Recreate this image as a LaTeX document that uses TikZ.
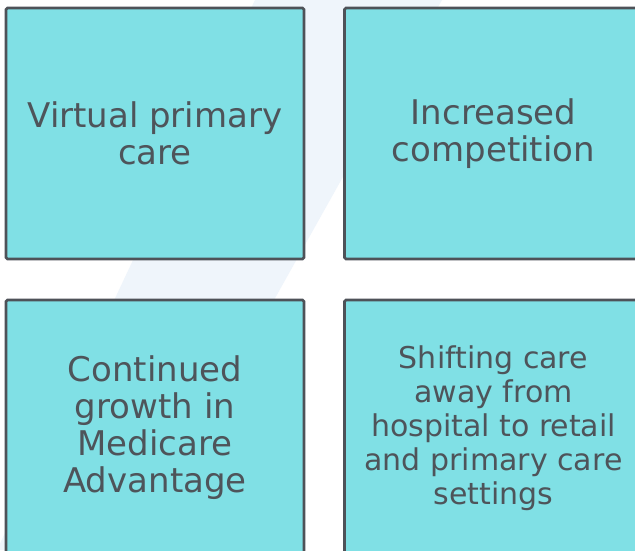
\documentclass[tikz,border=0pt]{standalone}
\usepackage{fontspec}
\setmainfont{DejaVu Sans}
\definecolor{boxfill}{RGB}{128,224,229}
\definecolor{boxline}{RGB}{78,82,88}
\definecolor{txt}{RGB}{78,84,90}
\definecolor{band}{RGB}{239,245,251}
\begin{document}
\begin{tikzpicture}[x=1pt,y=-1pt,
  card/.style={draw=boxline, line width=2.8pt, fill=boxfill,
    minimum width=298pt, minimum height=251pt, inner sep=0pt,
    text=txt, align=center, font=\fontsize{34}{37}\selectfont,
    rounded corners=1.5pt},
  tallcard/.style={card, minimum height=256pt},
  smalltext/.style={font=\fontsize{30}{34}\selectfont}]
\useasboundingbox (0,0) rectangle (635,550);
\fill[white] (0,0) rectangle (635,550);
\fill[band] (255,0) -- (442,0) -- (134,550) -- (-3,550) -- cycle;
\node[card] (vpc) at (155,133.5) {Virtual primary\\care};
\node[card] (comp) at (493.5,133.5) {Increased\\competition};
\node[tallcard] (ma) at (155,428) {Continued\\growth in\\Medicare\\Advantage};
\node[tallcard, smalltext] (shift) at (493.5,428) {Shifting care\\away from\\hospital to retail\\and primary care\\settings};
\end{tikzpicture}
\end{document}
